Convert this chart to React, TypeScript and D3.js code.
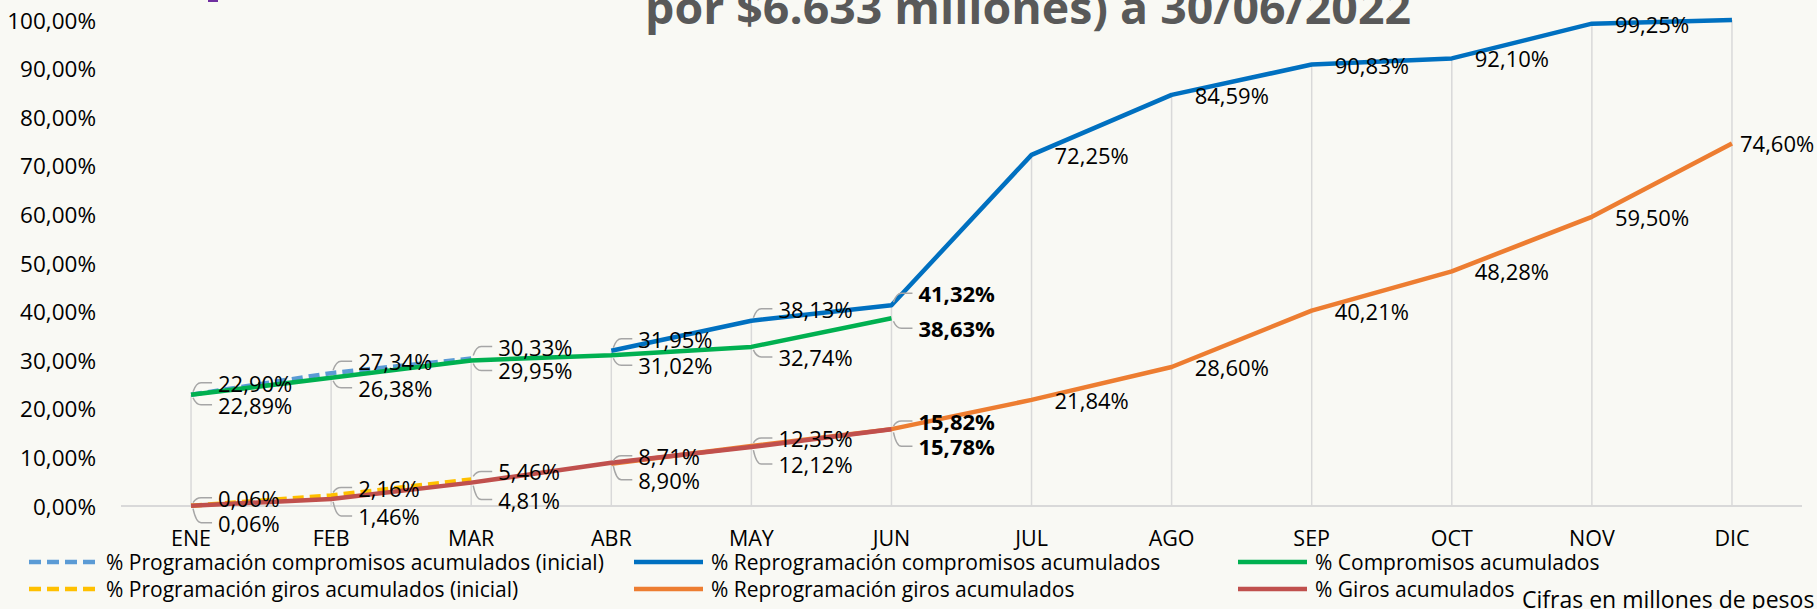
import { useEffect } from 'react';
import * as d3 from 'd3';

const months = ['ENE', 'FEB', 'MAR', 'ABR', 'MAY', 'JUN', 'JUL', 'AGO', 'SEP', 'OCT', 'NOV', 'DIC'];

// % acumulados, null = sin dato
const progCompIni = [22.9, 27.34, 30.33, null, null, null, null, null, null, null, null, null];
const reprogComp = [null, null, null, 31.95, 38.13, 41.32, 72.25, 84.59, 90.83, 92.1, 99.25, 100];
const compromisos = [22.89, 26.38, 29.95, 31.02, 32.74, 38.63, null, null, null, null, null, null];
const progGirosIni = [0.06, 2.16, 5.46, null, null, null, null, null, null, null, null, null];
const reprogGiros = [null, null, null, 8.71, 12.35, 15.82, 21.84, 28.6, 40.21, 48.28, 59.5, 74.6];
const giros = [0.06, 1.46, 4.81, 8.9, 12.12, 15.78, null, null, null, null, null, null];

const yTicks = [0, 10, 20, 30, 40, 50, 60, 70, 80, 90, 100];

const W = 1817;
const H = 609;
const FONT = "'Open Sans', 'Liberation Sans', sans-serif";

type Series = {
  name: string;
  values: (number | null)[];
  color: string;
  dash?: string;
  dy: number;
};

const series: Series[] = [
  { name: '% Programación compromisos acumulados (inicial)', values: progCompIni, color: '#5b9bd5', dash: '11 6', dy: -12 },
  { name: '% Reprogramación compromisos acumulados', values: reprogComp, color: '#0070c0', dy: -12 },
  { name: '% Compromisos acumulados', values: compromisos, color: '#00b050', dy: 10 },
  { name: '% Programación giros acumulados (inicial)', values: progGirosIni, color: '#ffc000', dash: '11 6', dy: -8 },
  { name: '% Reprogramación giros acumulados', values: reprogGiros, color: '#ed7d31', dy: -8 },
  { name: '% Giros acumulados', values: giros, color: '#c0504d', dy: 17 },
];

const fmt = (v: number) => v.toFixed(2).replace('.', ',') + '%';

const x = d3.scaleBand<string>().domain(months).range([121, 1802]).padding(0);
const cx = (m: string) => (x(m) as number) + x.bandwidth() / 2;
const y = d3.scaleLinear().domain([0, 100]).range([506, 20]);

export default function App() {
  useEffect(() => {
    document.body.style.margin = '0';
    document.body.style.background = '#f9f9f4';
  }, []);

  const line = d3
    .line<number | null>()
    .defined((d) => d !== null)
    .x((_, i) => cx(months[i]))
    .y((d) => y(d as number));

  // drop lines desde el valor mas alto de cada mes
  const drops = months.map((m, i) => {
    const top = d3.max(series, (s) => s.values[i] ?? -1) as number;
    return { m, top };
  });

  const legendCols = [29, 634, 1238];
  const legendRows = [562, 589];

  return (
    <svg width={W} height={H} style={{ display: 'block', background: '#f9f9f4', fontFamily: FONT }}>
      <rect x={0} y={0} width={W} height={H} fill="#f9f9f4" />
      <rect x={208} y={0} width={10} height={2} fill="#7030a0" />

      {drops.map((d) => (
        <line key={d.m} x1={cx(d.m)} x2={cx(d.m)} y1={y(d.top)} y2={y(0)} stroke="#d9d9d9" strokeWidth={1.5} />
      ))}
      <line x1={121} x2={1802} y1={y(0)} y2={y(0)} stroke="#d9d9d9" strokeWidth={2} />

      {yTicks.map((t) => (
        <text key={t} x={96} y={y(t)} textAnchor="end" dominantBaseline="central" fontSize={22.5} fill="#000">
          {t.toFixed(2).replace('.', ',') + '%'}
        </text>
      ))}
      {months.map((m) => (
        <text key={m} x={cx(m)} y={537} textAnchor="middle" dominantBaseline="central" fontSize={21.5} fill="#000">
          {m}
        </text>
      ))}

      {series.map((s) => (
        <path
          key={s.name}
          d={line(s.values) || ''}
          fill="none"
          stroke={s.color}
          strokeWidth={4.5}
          strokeDasharray={s.dash}
          strokeLinejoin="round"
        />
      ))}

      {series.map((s) =>
        s.values.map((v, i) => {
          if (v === null || v >= 100) return null; // sin etiqueta en 100%
          const px = cx(months[i]);
          const py = y(v);
          const bold = months[i] === 'JUN';
          if (i > 5) {
            const lx = Math.min(px + 23, 1810 - 70);
            return (
              <text key={s.name + i} x={lx} y={py} dominantBaseline="central" fontSize={22} fill="#000">
                {fmt(v)}
              </text>
            );
          }
          const ly = py + s.dy;
          const sgn = s.dy < 0 ? -1 : 1;
          return (
            <g key={s.name + i}>
              <path
                d={`M${px + 2},${py + sgn * 3} Q${px + 5},${ly} ${px + 10},${ly} L${px + 21},${ly}`}
                fill="none"
                stroke="#a6a6a6"
                strokeWidth={1.5}
              />
              <text x={px + 27} y={ly} dominantBaseline="central" fontSize={22} fontWeight={bold ? 700 : 400} fill="#000">
                {fmt(v)}
              </text>
            </g>
          );
        })
      )}

      <text
        x={645}
        y={24}
        fontSize={44}
        fontWeight={700}
        fill="#595959"
        textLength={766}
        lengthAdjust="spacingAndGlyphs"
      >
        por $6.633 millones) a 30/06/2022
      </text>

      {series.map((s, i) => {
        const lx = legendCols[i % 3];
        const ly = legendRows[Math.floor(i / 3)];
        return (
          <g key={'lg' + s.name}>
            <line x1={lx} x2={lx + 69} y1={ly} y2={ly} stroke={s.color} strokeWidth={4.5} strokeDasharray={s.dash ? '12 6' : undefined} />
            <text x={lx + 77} y={ly} dominantBaseline="central" fontSize={21} fill="#000">
              {s.name}
            </text>
          </g>
        );
      })}
      <text x={1522} y={599} dominantBaseline="central" fontSize={23} fill="#000">
        Cifras en millones de pesos
      </text>
    </svg>
  );
}
